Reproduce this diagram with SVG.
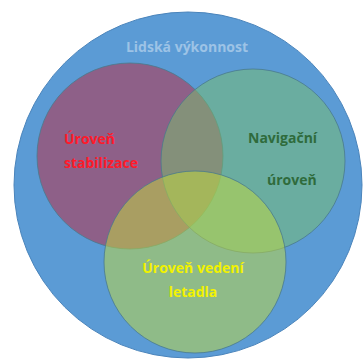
<svg xmlns="http://www.w3.org/2000/svg" width="364" height="360" viewBox="0 0 364 360">
  <style>
    .lbl { font-family: "Open Sans", "Liberation Sans", sans-serif; font-weight: bold; font-size: 14px; }
    .set { stroke: #4a7a8c; stroke-width: 1; stroke-opacity: 0.8; }
  </style>
  <rect width="364" height="360" fill="#ffffff"/>
  <!-- outer set -->
  <g id="human-performance">
    <ellipse cx="188" cy="185" rx="174" ry="173" fill="#5b9bd5" stroke="#4a84bb" stroke-width="1"/>
    <text class="lbl" x="187" y="52" text-anchor="middle" fill="#9dc3e6">Lidská výkonnost</text>
  </g>
  <!-- inner sets, semi-transparent -->
  <g id="stabilization">
    <circle class="set" cx="130" cy="156" r="93" fill="#c2253b" fill-opacity="0.5"/>
  </g>
  <g id="navigation">
    <circle class="set" cx="253" cy="161" r="92" fill="#79bf6b" fill-opacity="0.5"/>
  </g>
  <g id="guidance">
    <circle class="set" cx="195" cy="262" r="91" fill="#c3dc3b" fill-opacity="0.5"/>
  </g>
  <!-- labels -->
  <g id="labels">
    <text class="lbl" x="64" y="144" fill="#ff1a2a">Úroveň</text>
    <text class="lbl" x="64" y="168" fill="#ff1a2a">stabilizace</text>
    <text class="lbl" x="248" y="143" fill="#2f6b3c">Navigační</text>
    <text class="lbl" x="267" y="185" fill="#2f6b3c">úroveň</text>
    <text class="lbl" x="193" y="273" text-anchor="middle" fill="#f2f200">Úroveň vedení</text>
    <text class="lbl" x="193" y="297" text-anchor="middle" fill="#f2f200">letadla</text>
  </g>
</svg>
